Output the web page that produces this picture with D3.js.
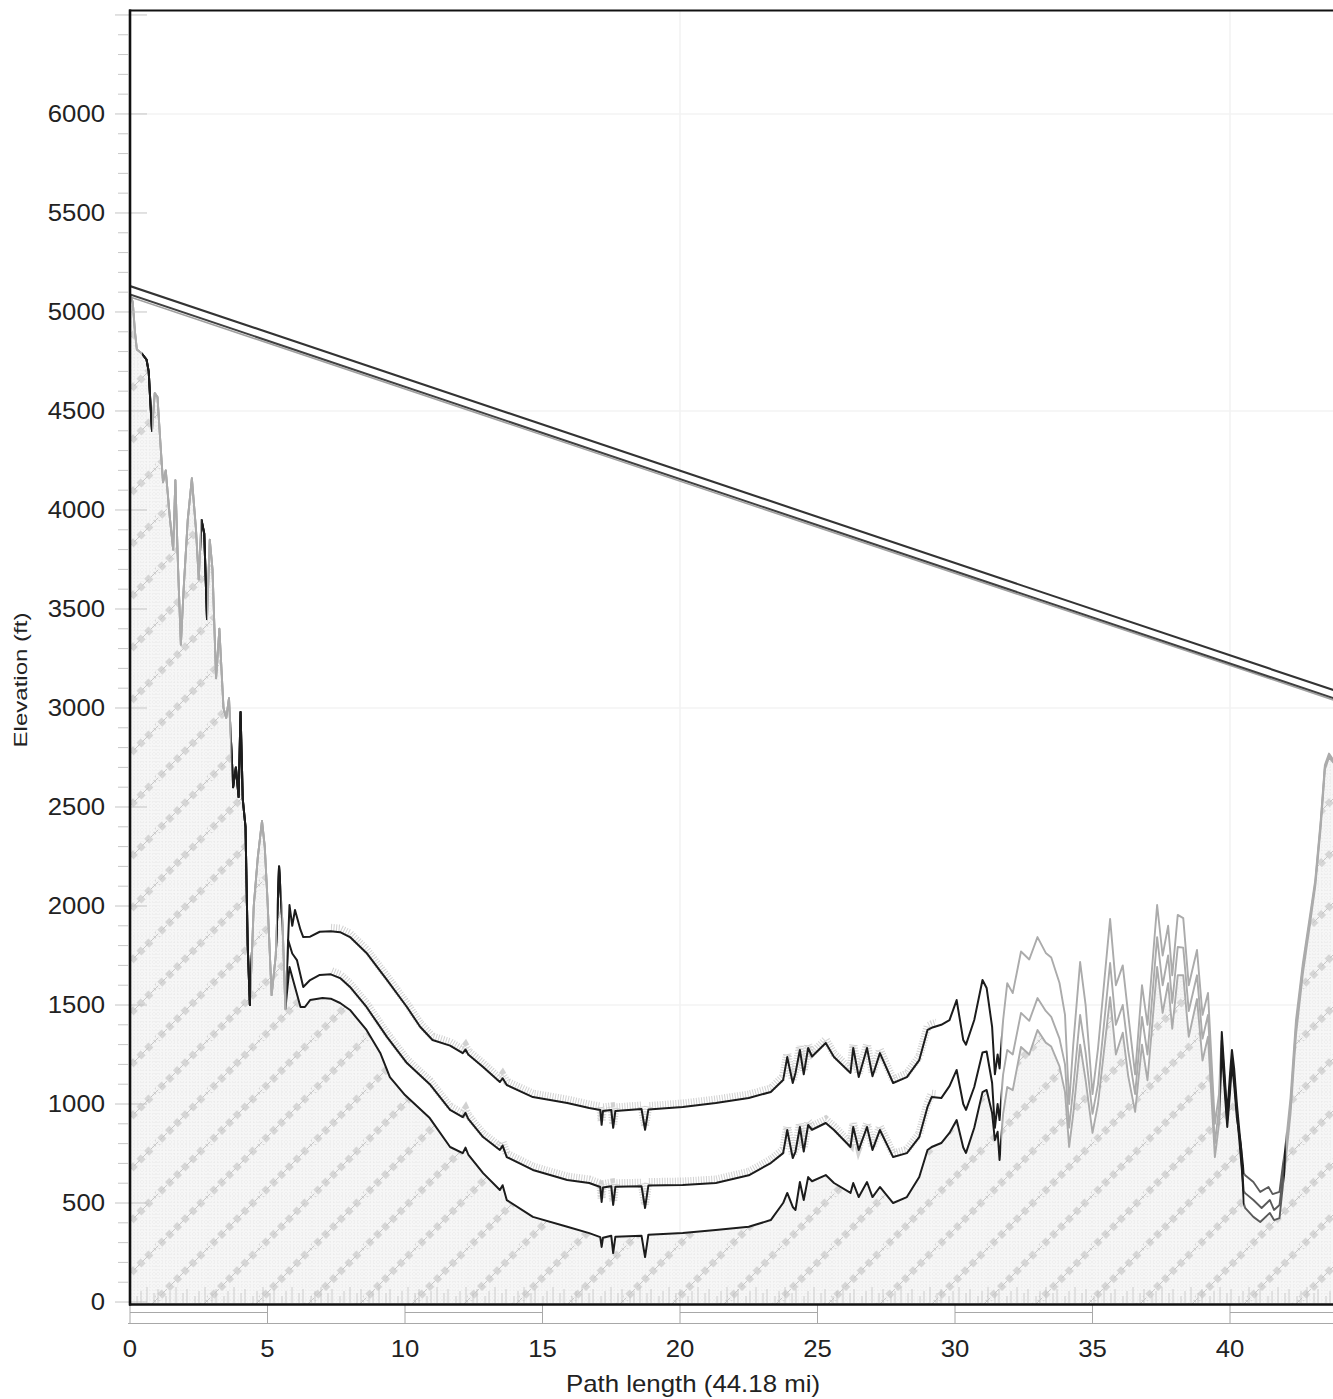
<!DOCTYPE html>
<html><head><meta charset="utf-8">
<script src="https://cdn.jsdelivr.net/npm/d3@7"></script>
<style>html,body{margin:0;padding:0;background:#fff;} svg{display:block;font-family:"Liberation Sans",Arial,sans-serif;}</style>
</head><body><svg id="chart" width="1333" height="1399"></svg>
<script>
// ---------------- data ----------------
const pathLengthMi = 44.18;
const xTicks = [0, 5, 10, 15, 20, 25, 30, 35, 40];
const yTicks = [0, 500, 1000, 1500, 2000, 2500, 3000, 3500, 4000, 4500, 5000, 5500, 6000];
const xTitle = "Path length (44.18 mi)";
const yTitle = "Elevation (ft)";

// shared rugged western section (the three profiles coincide here)
const westRidge = [[0,5090],[0.1,5050],[0.18,4900],[0.25,4810],[0.43,4790],[0.6,4760],[0.68,4700],[0.73,4570],[0.8,4400],[0.9,4590],[1.0,4570],[1.1,4350],[1.2,4140],[1.3,4200],[1.45,3960],[1.57,3800],[1.65,4150],[1.75,3700],[1.85,3320],[1.95,3600],[2.1,3950],[2.25,4160],[2.4,3900],[2.5,3650],[2.6,3950],[2.7,3880],[2.8,3450],[2.9,3850],[3.0,3700],[3.13,3150],[3.25,3400],[3.4,3000],[3.5,2950],[3.6,3050],[3.75,2600],[3.85,2700],[3.95,2550],[4.02,2980],[4.1,2540],[4.2,2400],[4.28,1800],[4.36,1500],[4.5,2000],[4.65,2250],[4.8,2430],[4.9,2300],[5.0,2030],[5.15,1550],[5.3,1750],[5.42,2200],[5.55,1900],[5.65,1480]];

const profileUpper = westRidge.concat([[5.8,2005],[5.9,1900],[6.0,1980],[6.2,1879],[6.3,1843],[6.55,1845],[6.9,1870],[7.3,1872],[7.64,1868],[8.0,1843],[8.6,1763],[9.35,1626],[10.07,1490],[10.55,1390],[11.0,1323],[11.64,1295],[12.1,1257],[12.2,1275],[12.3,1250],[12.84,1187],[13.45,1111],[13.55,1130],[13.7,1096],[14.65,1035],[15.9,1005],[16.7,980],[17.1,970],[17.15,895],[17.2,965],[17.5,970],[17.57,880],[17.65,965],[18.6,975],[18.73,870],[18.85,972],[20.1,985],[21.3,1005],[22.5,1030],[23.3,1061],[23.75,1121],[23.9,1237],[24.1,1106],[24.2,1157],[24.36,1273],[24.5,1150],[24.66,1283],[24.8,1240],[25.3,1308],[25.6,1237],[26.2,1157],[26.3,1283],[26.5,1136],[26.8,1283],[27.0,1140],[27.27,1257],[27.75,1106],[28.25,1136],[28.7,1222],[29.0,1374],[29.15,1385],[29.5,1400],[29.8,1424],[30.06,1525],[30.3,1323],[30.4,1300],[30.7,1424],[31.0,1626],[31.15,1586],[31.35,1389],[31.45,1150],[31.55,1250],[31.62,1180],
[31.75,1424],[31.9,1610],[32.1,1560],[32.4,1770],[32.7,1730],[33.0,1843],[33.3,1763],[33.5,1740],[33.8,1611],[34.0,1450],[34.15,1000],[34.3,1300],[34.55,1717],[34.75,1500],[35.0,1050],[35.2,1280],[35.64,1935],[35.85,1600],[36.1,1700],[36.3,1450],[36.55,1150],[36.8,1600],[37.0,1400],[37.35,2005],[37.55,1750],[37.75,1900],[37.9,1650],[38.1,1955],[38.3,1939],[38.5,1600],[38.8,1778],[39.0,1450],[39.2,1561],[39.45,900],[39.6,1050],
[39.7,1364],[39.78,1200],[39.85,1050],[39.9,950],[40.0,1150],[40.07,1273],[40.15,1180],[40.25,1000],[40.35,850],[40.5,651],
[40.55,640],[40.85,606],[41.1,556],[41.4,581],[41.55,545],[41.8,556],[41.93,700],
[42.0,760],[42.2,1030],[42.4,1424],[42.65,1712],[42.9,1944],[43.1,2131],[43.3,2434],[43.45,2712],[43.6,2770],[43.75,2740],[43.9,2760],[44.18,2750]]);

const profileMiddle = westRidge.concat([[5.75,1828],[5.9,1760],[6.07,1727],[6.3,1591],[6.55,1626],[6.9,1652],[7.3,1655],[7.64,1636],[8.0,1591],[8.6,1490],[9.35,1338],[10.07,1207],[10.9,1100],[11.64,970],[12.1,934],[12.2,955],[12.3,925],[12.84,833],[13.45,768],[13.55,790],[13.7,732],[14.65,667],[15.9,616],[16.7,601],[17.1,581],[17.15,505],[17.2,578],[17.5,585],[17.57,490],[17.65,582],[18.6,585],[18.73,475],[18.85,588],[20.1,591],[21.3,601],[22.5,640],[23.3,702],[23.75,752],[23.9,869],[24.1,727],[24.2,760],[24.36,884],[24.5,760],[24.66,894],[24.8,870],[25.3,904],[25.6,869],[26.2,783],[26.3,884],[26.5,768],[26.8,884],[27.0,768],[27.27,869],[27.75,732],[28.25,752],[28.7,833],[29.0,985],[29.15,1035],[29.5,1030],[29.8,1090],[30.06,1172],[30.3,1000],[30.4,970],[30.7,1086],[31.0,1260],[31.15,1265],[31.35,1106],[31.45,880],[31.55,1000],[31.62,919],
[31.75,1150],[31.9,1273],[32.1,1250],[32.4,1460],[32.7,1420],[33.0,1535],[33.3,1470],[33.5,1440],[33.8,1330],[34.0,1200],[34.15,880],[34.3,1080],[34.55,1450],[34.75,1260],[35.0,950],[35.2,1100],[35.64,1712],[35.85,1400],[36.1,1500],[36.3,1270],[36.55,1050],[36.8,1440],[37.0,1250],[37.35,1843],[37.55,1600],[37.75,1750],[37.9,1510],[38.1,1793],[38.3,1790],[38.5,1470],[38.8,1650],[39.0,1330],[39.2,1450],[39.45,800],[39.6,980],
[39.7,1320],[39.8,1120],[39.9,920],[40.0,1100],[40.07,1230],[40.15,1130],[40.25,960],[40.35,800],[40.5,560],
[40.55,550],[40.85,515],[41.15,475],[41.45,515],[41.6,465],[41.8,490],[41.93,650],
[42.0,720],[42.2,990],[42.4,1390],[42.65,1690],[42.9,1925],[43.1,2115],[43.3,2420],[43.45,2700],[43.6,2760],[43.75,2732],[43.9,2752],[44.18,2745]]);

const profileLower = westRidge.concat([[5.8,1692],[6.0,1591],[6.2,1490],[6.36,1490],[6.55,1525],[7.0,1535],[7.3,1532],[7.64,1510],[8.0,1475],[8.6,1374],[9.1,1258],[9.45,1136],[10.0,1045],[10.9,929],[11.64,783],[12.1,752],[12.2,780],[12.3,745],[12.84,651],[13.45,566],[13.55,590],[13.7,515],[14.65,430],[15.9,380],[16.7,348],[17.1,328],[17.15,278],[17.2,325],[17.5,335],[17.57,247],[17.65,330],[18.6,335],[18.73,227],[18.85,340],[20.1,348],[21.3,364],[22.5,380],[23.3,414],[23.75,500],[23.9,551],[24.1,480],[24.2,465],[24.36,606],[24.5,515],[24.66,631],[24.8,610],[25.3,641],[25.6,601],[26.2,551],[26.3,601],[26.5,530],[26.8,606],[27.0,530],[27.27,581],[27.75,500],[28.25,530],[28.7,631],[29.0,768],[29.15,783],[29.5,803],[29.8,854],[30.06,919],[30.3,780],[30.4,753],[30.7,880],[31.0,1060],[31.15,1071],[31.35,954],[31.45,818],[31.55,860],[31.62,717],
[31.75,950],[31.9,1086],[32.1,1070],[32.4,1288],[32.7,1250],[33.0,1374],[33.3,1310],[33.5,1290],[33.8,1190],[34.0,1060],[34.15,783],[34.3,950],[34.55,1300],[34.75,1120],[35.0,854],[35.2,1000],[35.64,1540],[35.85,1250],[36.1,1360],[36.3,1140],[36.55,960],[36.8,1300],[37.0,1120],[37.35,1692],[37.55,1460],[37.75,1610],[37.9,1380],[38.1,1650],[38.3,1650],[38.5,1340],[38.8,1530],[39.0,1220],[39.2,1340],[39.45,732],[39.6,900],
[39.7,1280],[39.8,1080],[39.9,884],[40.0,1060],[40.07,1200],[40.15,1100],[40.25,930],[40.4,783],[40.5,500],
[40.55,475],[40.85,430],[41.1,404],[41.45,450],[41.6,414],[41.8,424],[41.93,600],
[42.0,680],[42.2,950],[42.4,1350],[42.65,1660],[42.9,1900],[43.1,2100],[43.3,2400],[43.45,2690],[43.6,2750],[43.75,2725],[43.9,2745],[44.18,2740]]);

// line-of-sight rays
const losUpper = [[0,5131],[44.18,3071]];
const losLower = [[0,5088],[44.18,3030]];
const losLowerEdge = [[0,5076],[44.18,3021]];

// stretches of the profiles printed in light grey / mid grey (from the scan)
const lightRanges = [[0,0.45],[0.8,2.6],[2.8,3.7],[4.4,5.35],[5.5,5.7],[31.68,39.65],[42.02,44.18]];
const mediumRanges = [[40.52,41.95]];
const fuzzRanges = [[7.3,29.3]];

// ---------------- drawing ----------------
const svg = d3.select("#chart");
const W = 1333, H = 1399;
svg.append("rect").attr("width", W).attr("height", H).attr("fill", "#fff");
const defs = svg.append("defs");

const x = d3.scaleLinear().domain([0, pathLengthMi]).range([130, 130 + pathLengthMi * 27.5]);
const y = d3.scaleLinear().domain([-10, 6520]).range([1304, 11]);
const plotL = x(0), plotR = W, plotT = y(6520), plotB = y(-10);

defs.append("clipPath").attr("id", "plotClip").append("rect")
  .attr("x", plotL).attr("y", plotT).attr("width", plotR - plotL).attr("height", plotB - plotT);

function makeClip(id, ranges) {
  const cp = defs.append("clipPath").attr("id", id);
  ranges.forEach(r => cp.append("rect").attr("x", x(r[0])).attr("y", 0)
    .attr("width", Math.max(0, x(r[1]) - x(r[0]))).attr("height", H));
}
const nonDark = lightRanges.concat(mediumRanges).sort((a, b) => a[0] - b[0]);
const darkRanges = [];
let cur = -1;
nonDark.forEach(r => { if (r[0] > cur) darkRanges.push([cur, r[0]]); cur = Math.max(cur, r[1]); });
darkRanges.push([cur, pathLengthMi + 2]);
makeClip("clipLight", lightRanges);
makeClip("clipMedium", mediumRanges);
makeClip("clipDark", darkRanges);
makeClip("clipFuzz", fuzzRanges);

// hatch pattern
const pat = defs.append("pattern").attr("id", "hatch").attr("patternUnits", "userSpaceOnUse")
  .attr("width", 52).attr("height", 52);
pat.append("rect").attr("width", 52).attr("height", 52).attr("fill", "#f6f6f6");
let gridD = "";
for (let i = 2; i < 52; i += 4) gridD += `M${i},0V52M0,${i}H52`;
pat.append("path").attr("d", gridD).attr("stroke", "#e8e8e8").attr("stroke-width", 1).attr("stroke-dasharray", "1,2");
pat.append("path").attr("d", "M-4,56L56,-4M-30,30L30,-30M22,82L82,22")
  .attr("stroke", "#d6d6d6").attr("stroke-width", 7).attr("stroke-dasharray", "6,5");
pat.append("path").attr("d", "M-4,56L56,-4M-30,30L30,-30M22,82L82,22")
  .attr("stroke", "#c6c6c6").attr("stroke-width", 1).attr("stroke-dasharray", "9,3");

// bottom tick texture
const tp = defs.append("pattern").attr("id", "ticks").attr("patternUnits", "userSpaceOnUse")
  .attr("width", 29).attr("height", 16).attr("y", 1287);
[[2,0],[9,6],[13,2],[21,9],[25,4]].forEach(t => tp.append("line").attr("x1", t[0]).attr("x2", t[0])
  .attr("y1", t[1]).attr("y2", 16).attr("stroke", "#c2c2c2").attr("stroke-width", 1));

// grid
const grid = svg.append("g").attr("clip-path", "url(#plotClip)");
[1500, 3000, 4500, 6000].forEach(v => grid.append("line").attr("x1", plotL).attr("x2", plotR)
  .attr("y1", y(v)).attr("y2", y(v)).attr("stroke", "#f3f3f3").attr("stroke-width", 1.5));
[20, 40].forEach(v => grid.append("line").attr("x1", x(v)).attr("x2", x(v))
  .attr("y1", plotT).attr("y2", plotB).attr("stroke", "#f2f2f2").attr("stroke-width", 1.5));

const plot = svg.append("g").attr("clip-path", "url(#plotClip)");

// terrain fill
const area = d3.area().x(d => x(d[0])).y0(plotB).y1(d => y(d[1]));
plot.append("path").datum(profileLower).attr("d", area).attr("fill", "url(#hatch)");
plot.append("rect").attr("x", plotL).attr("y", 1287).attr("width", plotR - plotL).attr("height", 16)
  .attr("fill", "url(#ticks)").attr("opacity", 0.8);

const line = d3.line().x(d => x(d[0])).y(d => y(d[1]));

// fuzzy grey hairlines above upper & middle profiles
const fuzz = plot.append("g").attr("clip-path", "url(#clipFuzz)");
[profileUpper, profileMiddle].forEach(p => fuzz.append("path").datum(p).attr("d", line)
  .attr("transform", "translate(0,-3.5)").attr("fill", "none").attr("stroke", "#b2b2b2")
  .attr("stroke-width", 8).attr("stroke-dasharray", "1,1.6").attr("opacity", 0.6));

const profiles = [profileLower, profileMiddle, profileUpper];
const tones = [["clipLight", "#ababab", 1.9], ["clipMedium", "#5a5a5a", 1.9], ["clipDark", "#1c1c1c", 2.0]];
tones.forEach(t => {
  const g = plot.append("g").attr("clip-path", `url(#${t[0]})`);
  profiles.forEach(p => g.append("path").datum(p).attr("d", line).attr("fill", "none")
    .attr("stroke", t[1]).attr("stroke-width", t[2]).attr("stroke-linejoin", "round"));
});

// line-of-sight rays
plot.append("path").datum(losLowerEdge).attr("d", line).attr("fill", "none").attr("stroke", "#a0a0a0").attr("stroke-width", 1.6);
plot.append("path").datum(losLower).attr("d", line).attr("fill", "none").attr("stroke", "#404040").attr("stroke-width", 2);
plot.append("path").datum(losUpper).attr("d", line).attr("fill", "none").attr("stroke", "#333").attr("stroke-width", 2.1);

// y ticks
const yt = svg.append("g");
for (let v = 0; v <= 6500; v += 100) {
  const major = v % 500 === 0;
  yt.append("line").attr("x1", major ? 115 : 118).attr("x2", major ? 147 : 128)
    .attr("y1", y(v)).attr("y2", y(v)).attr("stroke", major ? "#c4c4c4" : "#c8c8c8").attr("stroke-width", 1);
}
yTicks.forEach(v => yt.append("text").attr("x", 105).attr("y", y(v) + 8)
  .attr("text-anchor", "end").attr("font-size", 24).attr("fill", "#222")
  .attr("textLength", String(v).length * 14.3).attr("lengthAdjust", "spacingAndGlyphs").text(v));

// x scale band
const band = svg.append("g");
band.append("line").attr("x1", plotL - 2).attr("x2", W).attr("y1", 1323.5).attr("y2", 1323.5).attr("stroke", "#a8a8a8");
for (let i = 0; i < 9; i++) {
  const a = x(i * 5), b = x(Math.min((i + 1) * 5, pathLengthMi + 1));
  band.append("line").attr("x1", a).attr("x2", a).attr("y1", 1305).attr("y2", 1324).attr("stroke", "#a8a8a8");
  if (i % 2 === 0) band.append("line").attr("x1", a).attr("x2", b).attr("y1", 1312.5).attr("y2", 1312.5).attr("stroke", "#a8a8a8");
}
xTicks.forEach(v => svg.append("text").attr("x", x(v)).attr("y", 1357).attr("text-anchor", "middle")
  .attr("font-size", 24).attr("fill", "#222")
  .attr("textLength", String(v).length * 14.3).attr("lengthAdjust", "spacingAndGlyphs").text(v));

// frame
svg.append("line").attr("x1", plotL).attr("x2", plotL).attr("y1", 9.5).attr("y2", 1305.5).attr("stroke", "#111").attr("stroke-width", 2.6);
svg.append("line").attr("x1", plotL - 1).attr("x2", W).attr("y1", 10.5).attr("y2", 10.5).attr("stroke", "#111").attr("stroke-width", 2.2);
svg.append("line").attr("x1", plotL - 1).attr("x2", W).attr("y1", 1304.5).attr("y2", 1304.5).attr("stroke", "#111").attr("stroke-width", 2.6);

// titles
svg.append("text").attr("x", 693).attr("y", 1392).attr("text-anchor", "middle").attr("font-size", 24)
  .attr("fill", "#222").attr("textLength", 254).attr("lengthAdjust", "spacingAndGlyphs").text(xTitle);
svg.append("text").attr("transform", "translate(27,680) rotate(-90)").attr("text-anchor", "middle")
  .attr("font-size", 18.5).attr("fill", "#222").attr("textLength", 135).attr("lengthAdjust", "spacingAndGlyphs").text(yTitle);
</script></body></html>
